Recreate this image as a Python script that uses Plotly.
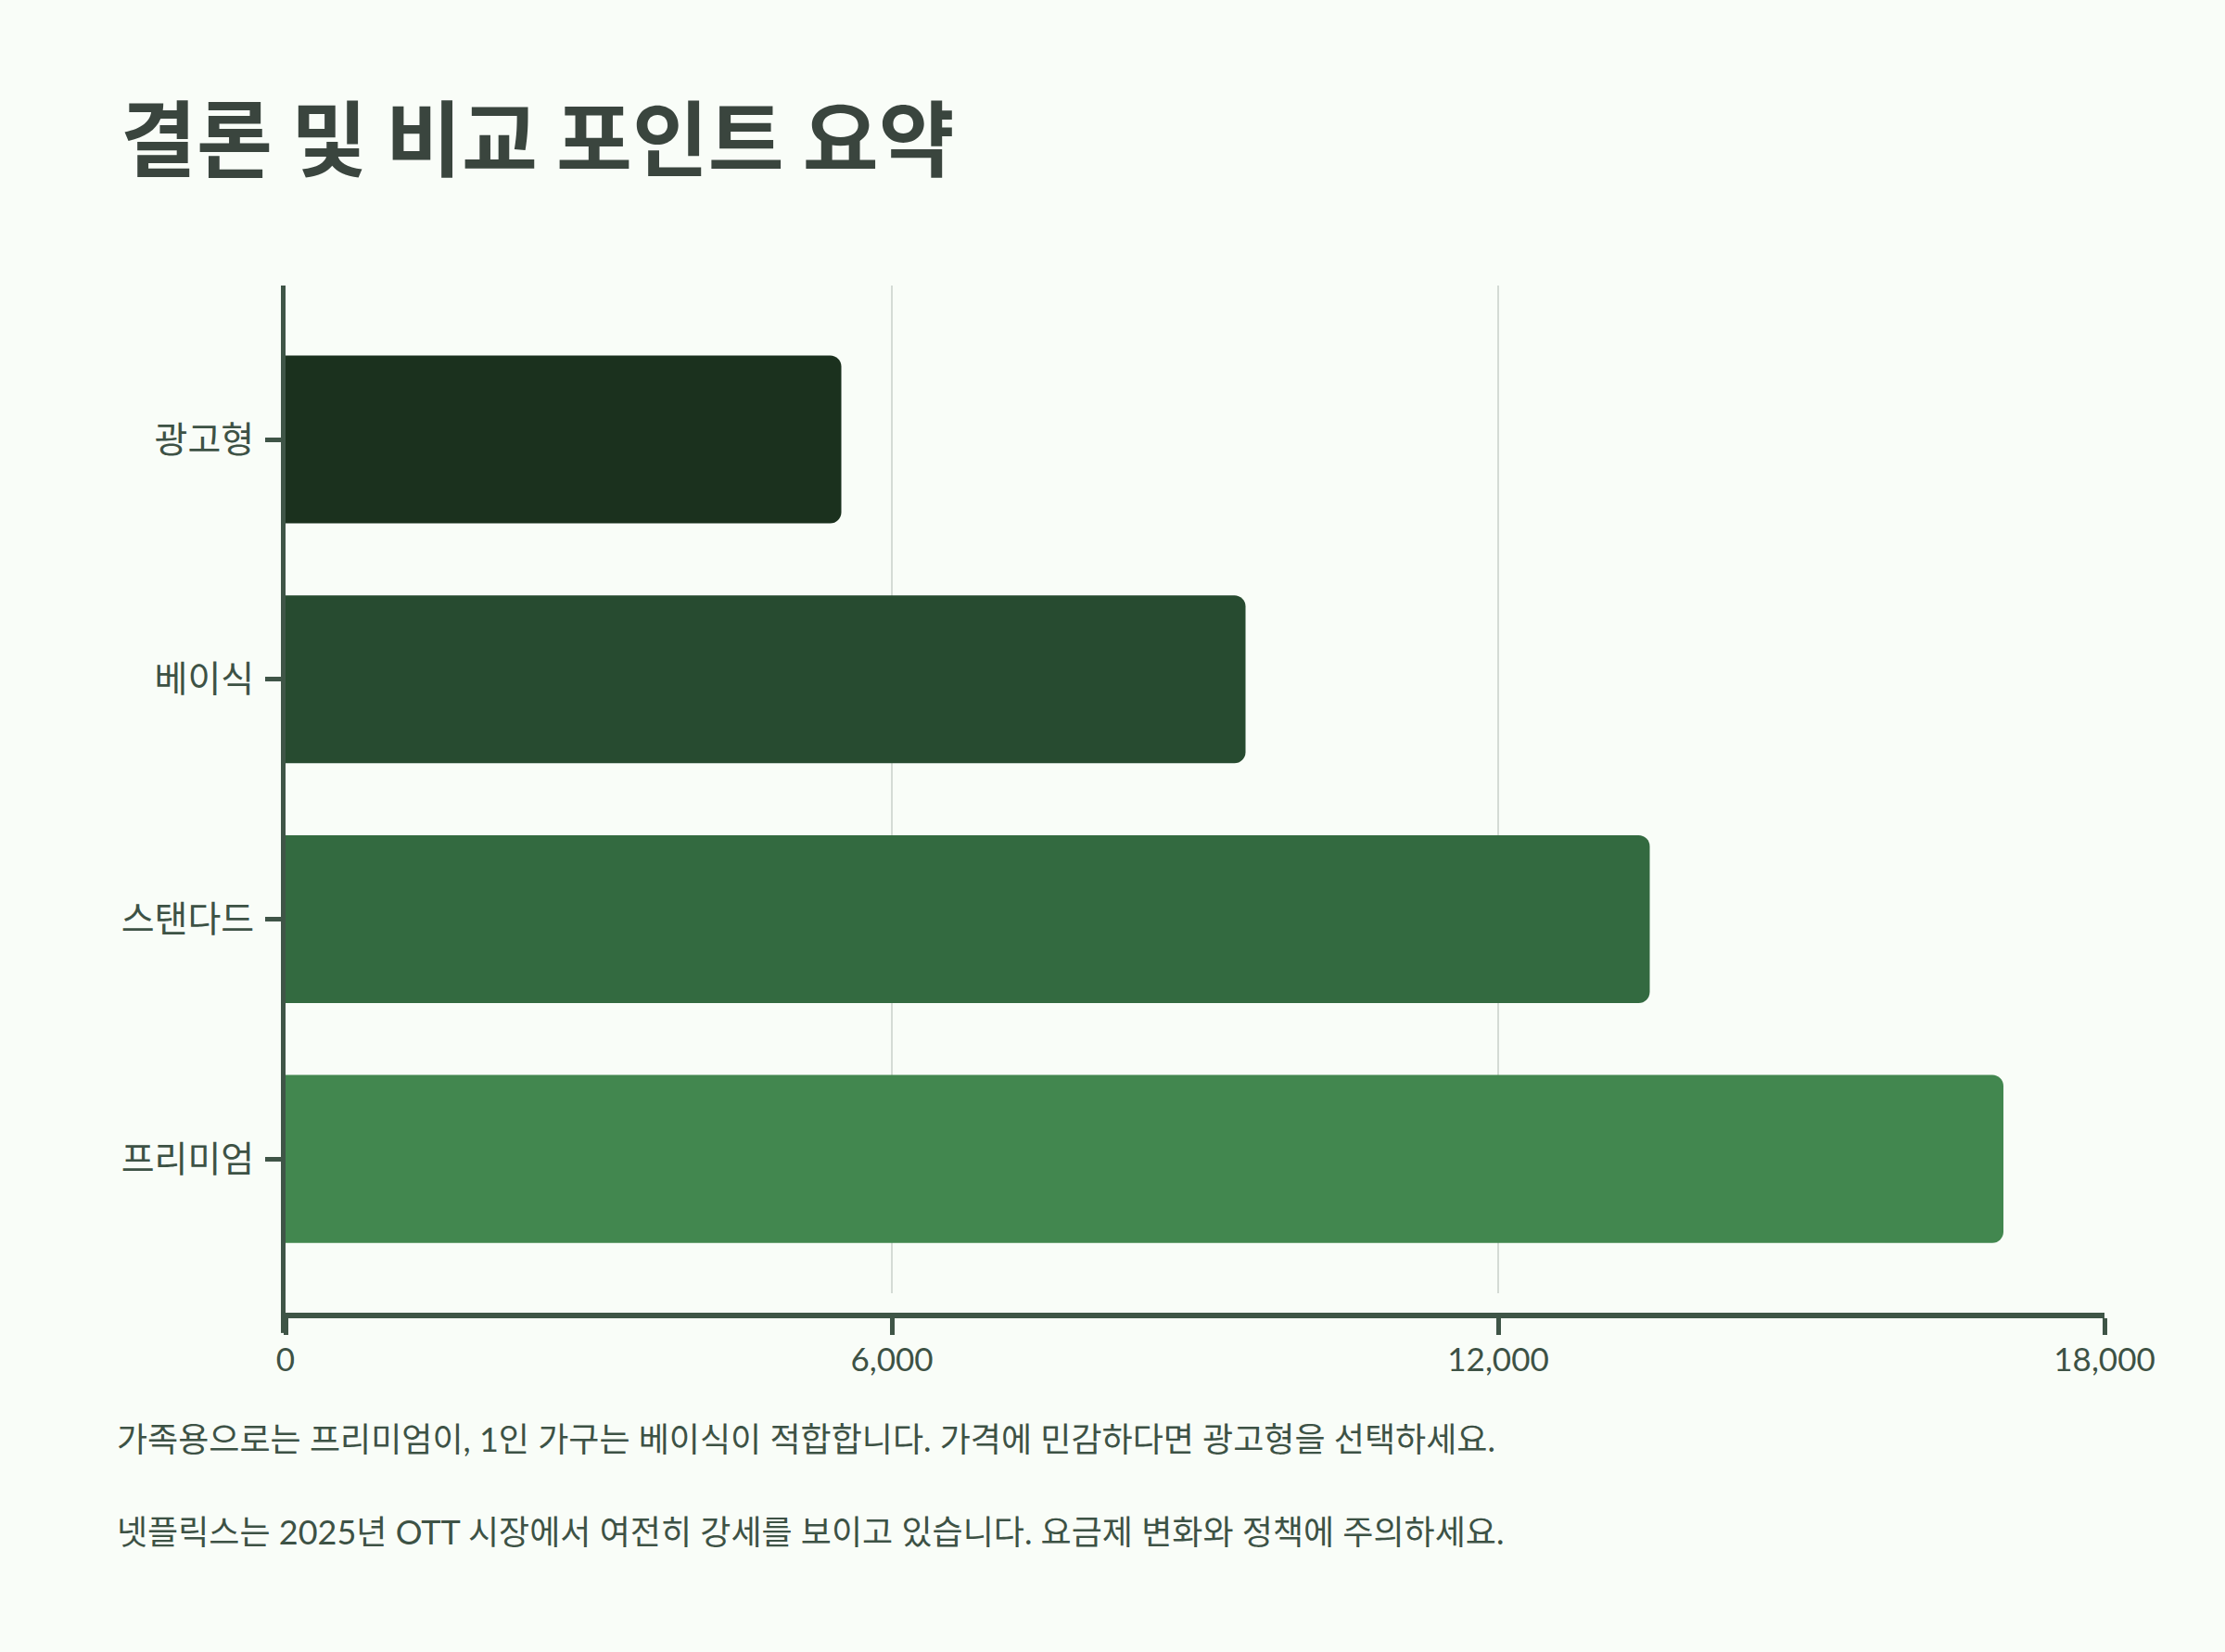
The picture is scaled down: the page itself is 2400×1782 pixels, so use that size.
import plotly.graph_objects as go

# --- data ---
plans = ["광고형", "베이식", "스탠다드", "프리미엄"]
prices = [5500, 9500, 13500, 17000]
bar_colors = ["#1b311e", "#274b30", "#336a40", "#42874f"]
x_ticks = [0, 6000, 12000, 18000]
x_tick_labels = ["0", "6,000", "12,000", "18,000"]

title_text = "결론 및 비교 포인트 요약"
notes = [
    "가족용으로는 프리미엄이, 1인 가구는 베이식이 적합합니다. 가격에 민감하다면 광고형을 선택하세요.",
    "넷플릭스는 2025년 OTT 시장에서 여전히 강세를 보이고 있습니다. 요금제 변화와 정책에 주의하세요.",
]

# --- style ---
BG = "#f9fdf8"
INK = "#3d5245"
AXIS = "#3f5547"
GRID = "#d4dbd5"
FONT = "Lato, 'Noto Sans CJK KR', sans-serif"

W, H = 2400, 1782
L, R, T, B = 308, 130, 308, 363
plot_w = W - L - R
plot_h = H - T - B
gap = 24 / plot_h  # x axis sits a little below the gridlines

fig = go.Figure()
fig.add_trace(go.Bar(
    x=prices,
    y=plans,
    orientation="h",
    marker=dict(color=bar_colors, line=dict(width=0), cornerradius=12),
    width=0.7,
    hoverinfo="x+y",
))

# y axis line continues down to the offset x axis
fig.add_shape(type="line", xref="paper", yref="paper",
              x0=-2.5 / plot_w, x1=-2.5 / plot_w, y0=-0.017, y1=gap + 0.002,
              line=dict(color=AXIS, width=5), layer="above")

fig.update_layout(
    width=W, height=H,
    paper_bgcolor=BG, plot_bgcolor=BG,
    margin=dict(l=L, r=R, t=T, b=B, autoexpand=False),
    showlegend=False,
    font=dict(family=FONT, color=INK, size=34),
    title=dict(
        text=title_text,
        xref="container", yref="container",
        x=130 / W, xanchor="left",
        y=1 - 152 / H, yanchor="middle",
        font=dict(family="'Noto Sans CJK KR', sans-serif", size=89, weight=700, color="#3a453e"),
    ),
    xaxis=dict(
        range=[0, 18000],
        tickvals=x_ticks, ticktext=x_tick_labels,
        showgrid=True, gridcolor=GRID, gridwidth=2,
        showline=True, linecolor=AXIS, linewidth=6,
        ticks="outside", ticklen=18, tickwidth=5, tickcolor=AXIS,
        tickfont=dict(size=35, color=INK),
        ticklabelstandoff=-3,
        zeroline=False,
        anchor="free", position=0,
        fixedrange=True,
    ),
    yaxis=dict(
        domain=[gap, 1],
        categoryorder="array", categoryarray=plans,
        range=[3.56, -0.642],
        showgrid=False,
        showline=True, linecolor=AXIS, linewidth=5,
        ticks="outside", ticklen=17, tickwidth=5, tickcolor=AXIS,
        tickfont=dict(size=39, color=INK),
        ticklabelstandoff=4,
        zeroline=False,
        fixedrange=True,
    ),
)

for i, note in enumerate(notes):
    fig.add_annotation(
        text=note,
        xref="paper", yref="paper",
        x=(124 - L) / plot_w, xanchor="left",
        y=-(1552 + i * 100 - (H - B)) / plot_h, yanchor="middle",
        showarrow=False,
        font=dict(size=36, color=INK),
    )

# drop the page margin so the figure fills the window
fig.write_html(
    "out.html",
    config={"displayModeBar": False},
    post_script="document.body.style.margin='0';document.body.style.background='%s';" % BG,
)
